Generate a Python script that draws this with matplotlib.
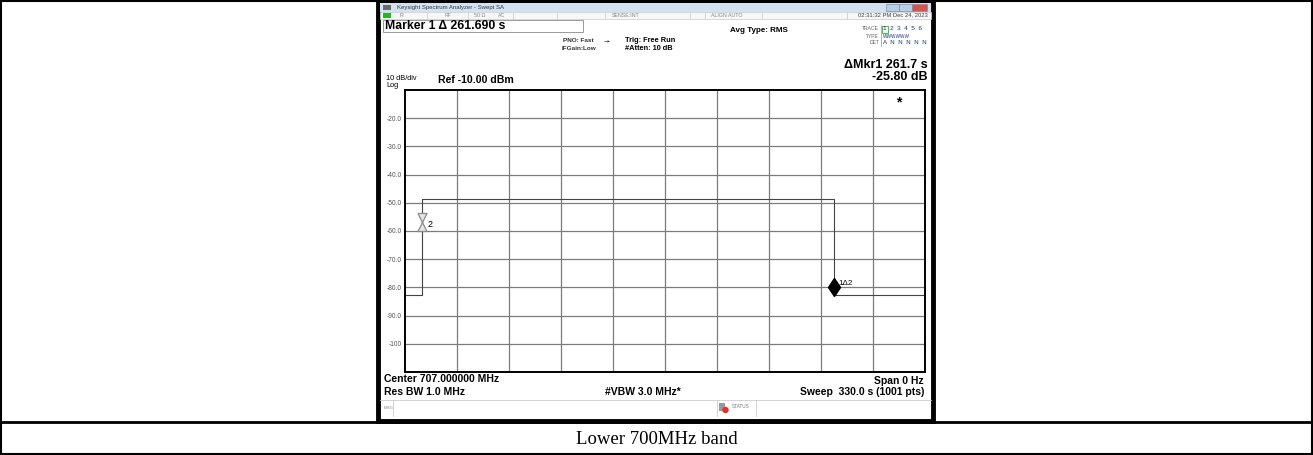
import matplotlib
matplotlib.use("Agg")
import matplotlib.pyplot as plt
from matplotlib.patches import Rectangle, Circle
from matplotlib.path import Path

# trace (zero span, 330 s sweep)
sweep_s = 330.0
trace_t = [0.0, 10.7, 10.7, 272.4, 272.4, 330.0]
trace_db = [-82.8, -82.8, -48.8, -48.8, -82.8, -82.8]
mkr2_t, mkr2_db = 10.7, -56.7
mkr1_t, mkr1_db = 272.4, -80.0
ref_db = -10.0
div_db = 10.0
ytick_vals = [-20, -30, -40, -50, -60, -70, -80, -90, -100]
ytick_labels = ["-20.0", "-30.0", "-40.0", "-50.0", "-60.0", "-70.0", "-80.0", "-90.0", "-100"]
caption = "Lower 700MHz band"

W, H = 1313, 455
fig = plt.figure(figsize=(W / 100, H / 100), dpi=100)
bg = fig.add_axes([0, 0, 1, 1])
bg.set_xlim(0, W)
bg.set_ylim(H, 0)
bg.axis("off")

SANS = "Liberation Sans"

# table borders
bg.add_patch(Rectangle((0.75, 0.75), W - 1.5, H - 1.5, fill=False, ec="black", lw=1.5))
bg.plot([0, W], [421.5, 421.5], color="black", lw=2)
bg.text(W / 2, 439, caption, family="Liberation Serif", fontsize=13.5, ha="center", va="center")

# screenshot window
bg.add_patch(Rectangle((378, 1.5), 555, 419, fc="white", ec="black", lw=3.5))
bg.add_patch(Rectangle((380, 3), 551, 8.5, fc="#d3e2f2", ec="none"))
bg.add_patch(Rectangle((383, 4.5), 8, 5.5, fc="#6b6b6b", ec="none"))
bg.text(397, 7.5, "Keysight Spectrum Analyzer - Swept SA", family=SANS, fontsize=4.3, color="#333333", va="center")
for xb, c in [(886, "#b9cde4"), (899, "#b9cde4"), (912, "#d9534a")]:
    bg.add_patch(Rectangle((xb, 3.5), 12.5 if c != "#d9534a" else 15, 7, fc=c, ec="#7a8ea8", lw=0.5))

# status row
bg.add_patch(Rectangle((380, 11.5), 551, 7, fc="#f7f7f7", ec="#c8c8c8", lw=0.5))
bg.add_patch(Rectangle((383, 12.5), 8, 5, fc="#22b822", ec="none"))
for xs in [427, 468, 513, 557, 605, 690, 705, 762, 847]:
    bg.plot([xs, xs], [11.5, 18.5], color="#c8c8c8", lw=0.5)
for xt, s in [(400, "R"), (445, "RF"), (474, "50 Ω"), (498, "AC"), (612, "SENSE:INT"), (711, "ALIGN AUTO")]:
    bg.text(xt, 15.2, s, family=SANS, fontsize=3.8, color="#888888", va="center")
bg.text(928, 15.2, "02:31:32 PM Dec 24, 2023", family=SANS, fontsize=4.2, color="#444444", va="center", ha="right")

# marker readout box
bg.add_patch(Rectangle((383, 20), 200, 11.5, fc="white", ec="#999999", lw=0.7))
bg.text(385, 26, "Marker 1 Δ 261.690 s", family=SANS, fontsize=8.8, weight="bold", va="center")
bg.text(594, 41, "PNO: Fast", family=SANS, fontsize=4.6, weight="bold", color="#333333", ha="right", va="center")
bg.text(596, 49, "IFGain:Low", family=SANS, fontsize=4.6, weight="bold", color="#333333", ha="right", va="center")
bg.text(604, 41, "→-", family="DejaVu Sans", fontsize=4.5, color="#333333", va="center")
bg.text(625, 40, "Trig: Free Run", family=SANS, fontsize=5.3, weight="bold", va="center")
bg.text(625, 48, "#Atten: 10 dB", family=SANS, fontsize=5.3, weight="bold", va="center")
bg.text(730, 30, "Avg Type: RMS", family=SANS, fontsize=5.8, weight="bold", va="center")

# trace / type / det table
bg.text(879, 29, "TRACE", family=SANS, fontsize=3.6, color="#666666", ha="right", va="center")
bg.text(879, 36, "TYPE", family=SANS, fontsize=3.6, color="#666666", ha="right", va="center")
bg.text(879, 43, "DET", family=SANS, fontsize=3.6, color="#666666", ha="right", va="center")
bg.plot([880.5, 880.5], [25, 46], color="#999999", lw=0.5)
bg.add_patch(Rectangle((881.5, 25.5), 6.5, 7, fc="none", ec="#3cc43c", lw=0.7))
bg.text(883, 29, "1  2  3  4  5  6", family=SANS, fontsize=4.6, color="#1a3a80", va="center")
bg.text(883, 36, "WWWWWW", family=SANS, fontsize=3.4, color="#1a3a80", va="center")
bg.text(883, 43, "A  N  N  N  N  N", family=SANS, fontsize=4.4, color="#1a3a80", va="center")

bg.text(928, 65.5, "ΔMkr1 261.7 s", family=SANS, fontsize=9, weight="bold", ha="right", va="center")
bg.text(928, 77.5, "-25.80 dB", family=SANS, fontsize=9, weight="bold", ha="right", va="center")
bg.text(386, 79, "10 dB/div", family=SANS, fontsize=5.3, va="center")
bg.text(386, 85.5, "Log", family=SANS, fontsize=5.3, va="center")
bg.text(438, 80, "Ref -10.00 dBm", family=SANS, fontsize=7.6, weight="bold", va="center")

# bottom annotations
bg.text(384, 379.5, "Center 707.000000 MHz", family=SANS, fontsize=7.5, weight="bold", va="center")
bg.text(384, 392, "Res BW 1.0 MHz", family=SANS, fontsize=7.5, weight="bold", va="center")
bg.text(643, 392, "#VBW 3.0 MHz*", family=SANS, fontsize=7.5, weight="bold", va="center", ha="center")
bg.text(924, 380.5, "Span 0 Hz", family=SANS, fontsize=7.5, weight="bold", va="center", ha="right")
bg.text(924, 392, "Sweep  330.0 s (1001 pts)", family=SANS, fontsize=7.5, weight="bold", va="center", ha="right")

# msg / status bar
bg.plot([380, 931], [400, 400], color="#cccccc", lw=0.6)
bg.plot([393, 393], [400, 416], color="#cccccc", lw=0.6)
bg.text(384, 408, "MSG", family=SANS, fontsize=3.2, color="#888888", va="center")
bg.add_patch(Rectangle((719, 403), 6, 8, fc="#999999", ec="none"))
bg.add_patch(Circle((725.5, 410), 3.2, fc="#e03030", ec="none"))
bg.text(732, 407, "STATUS", family=SANS, fontsize=3.3, color="#777777", va="center")
bg.plot([717, 717], [400, 416], color="#cccccc", lw=0.6)
bg.plot([756, 756], [400, 416], color="#cccccc", lw=0.6)

# measurement graticule
x0, y0, x1, y1 = 405, 90, 925, 372
ax = fig.add_axes([x0 / W, (H - y1) / H, (x1 - x0) / W, (y1 - y0) / H])
ax.set_xlim(0, sweep_s)
ax.set_ylim(ref_db - 10 * div_db, ref_db)
ax.set_xticks([sweep_s * i / 10 for i in range(1, 10)])
ax.set_yticks(ytick_vals)
ax.set_yticklabels(ytick_labels, family=SANS, fontsize=4.8, color="#555555")
ax.tick_params(length=0, pad=2.5, labelbottom=False)
ax.grid(True, color="#7c7c7c", lw=0.9)
for s in ax.spines.values():
    s.set_linewidth(1.4)
ax.plot(trace_t, trace_db, color="#444444", lw=0.8)

hourglass = Path([(-0.5, 1), (0.5, 1), (-0.5, -1), (0.5, -1), (-0.5, 1)])
ax.plot([mkr2_t], [mkr2_db], marker=hourglass, ms=13, mfc="#e6e6e6", mec="#8a8a8a", mew=0.9, ls="none")
ax.annotate("2", (mkr2_t, mkr2_db), xytext=(4, -4), textcoords="offset points", family=SANS, fontsize=6.5)
ax.plot([mkr1_t], [mkr1_db], marker="d", ms=9.5, color="black", ls="none")
ax.annotate("1Δ2", (mkr1_t, mkr1_db), xytext=(3, 2), textcoords="offset points", family=SANS, fontsize=5.8)
ax.text(0.95, 0.955, "*", transform=ax.transAxes, fontsize=10, ha="center", va="center", family=SANS, weight="bold")

fig.savefig("out.png", dpi=100)
